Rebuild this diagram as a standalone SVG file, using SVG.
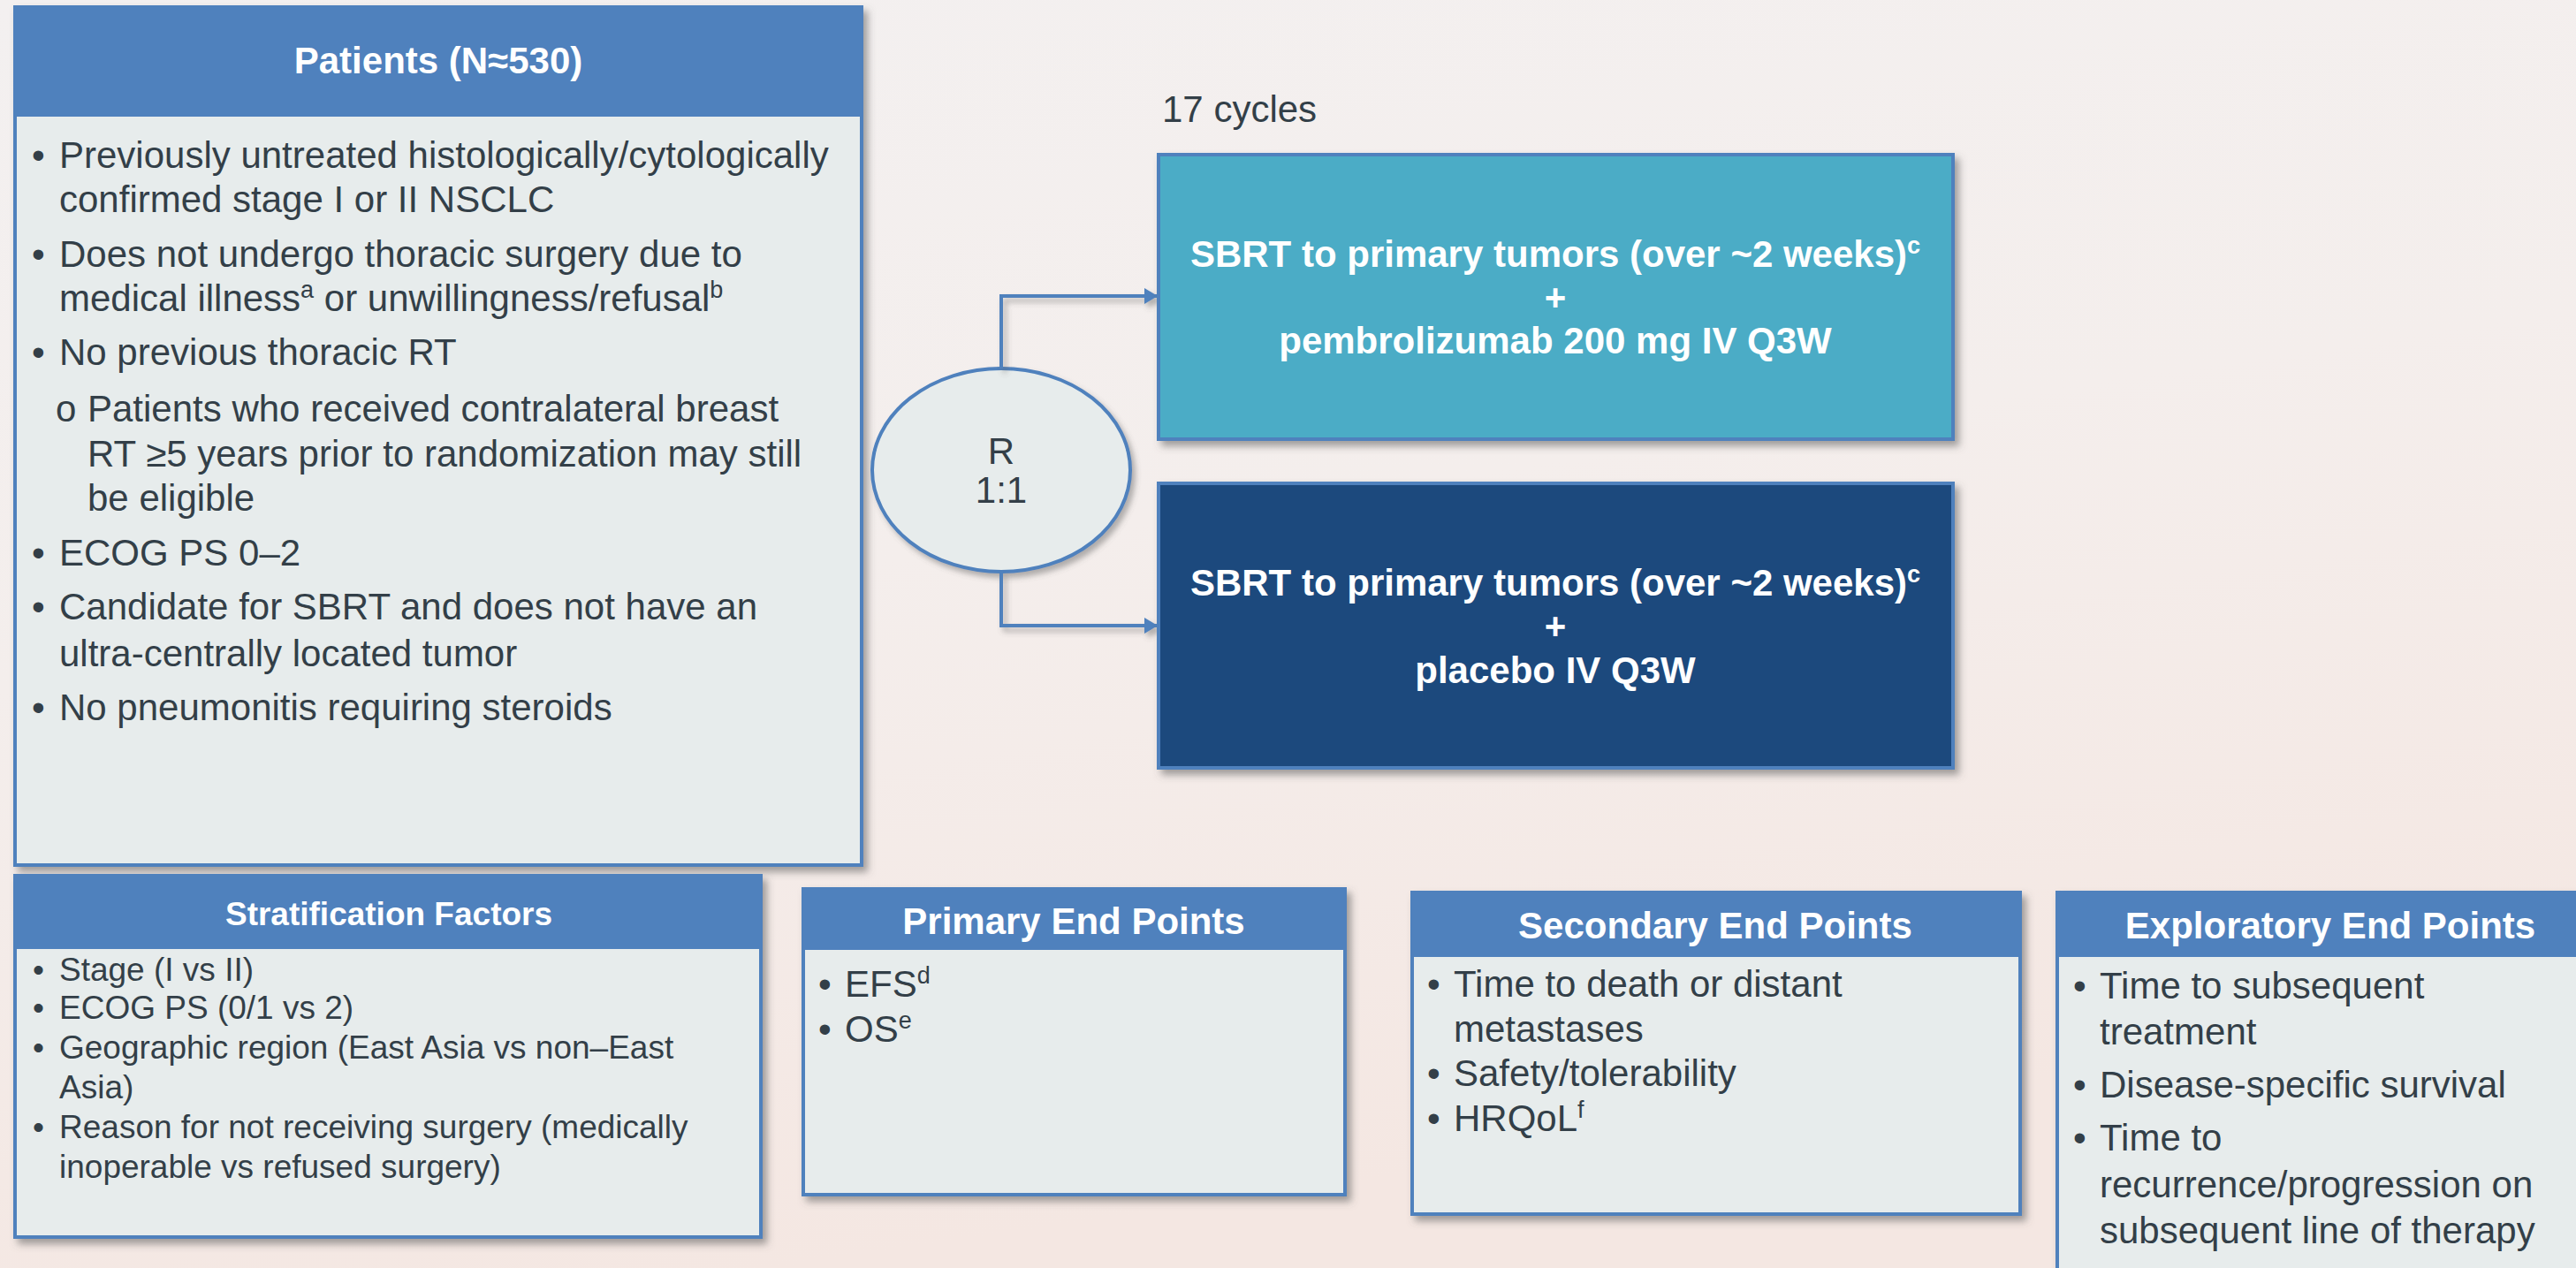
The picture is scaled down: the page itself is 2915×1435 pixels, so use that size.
<svg xmlns="http://www.w3.org/2000/svg" width="2915" height="1435" viewBox="0 0 2915 1435">
<defs>
<linearGradient id="bg" x1="0" y1="0" x2="0.3" y2="1">
<stop offset="0" stop-color="#F3F0F0"/>
<stop offset="0.5" stop-color="#F4EEEC"/>
<stop offset="1" stop-color="#F4E7E2"/>
</linearGradient>
<filter id="sh" x="-5%" y="-5%" width="115%" height="115%">
<feDropShadow dx="5" dy="6" stdDeviation="4" flood-color="#5a5a5a" flood-opacity="0.55"/>
</filter>
<filter id="shl" x="-10%" y="-10%" width="130%" height="140%">
<feDropShadow dx="4" dy="5" stdDeviation="3" flood-color="#5a5a5a" flood-opacity="0.45"/>
</filter>
<marker id="arr" markerUnits="userSpaceOnUse" markerWidth="16" markerHeight="18" refX="15" refY="9" orient="auto">
<path d="M0,0 L15,9 L0,18 Z" fill="#4F81BD"/>
</marker>
</defs>
<style>
.body{fill:#E7ECEC;stroke:#4F81BD;stroke-width:4}
.head{fill:#4F81BD}
.ht{font-family:"Liberation Sans",Arial,sans-serif;font-weight:bold;fill:#FFFFFF;text-anchor:middle}
.t{font-family:"Liberation Sans",Arial,sans-serif;fill:#333F48;font-size:42px}
.s{font-family:"Liberation Sans",Arial,sans-serif;fill:#333F48;font-size:37px}
.at{font-family:"Liberation Sans",Arial,sans-serif;font-weight:bold;fill:#FFFFFF;font-size:42px;text-anchor:middle}
.con{fill:none;stroke:#4F81BD;stroke-width:4}
</style>
<rect width="2915" height="1435" fill="url(#bg)"/>

<g id="patients">
<g filter="url(#sh)">
<rect class="body" x="17" y="8" width="958" height="971"/>
<rect class="head" x="15" y="6" width="962" height="126"/>
</g>
<text class="ht" x="496" y="83" font-size="42">Patients (N≈530)</text>
<text class="t" x="36" y="190">•</text><text class="t" x="67" y="190">Previously untreated histologically/cytologically</text>
<text class="t" x="67" y="240">confirmed stage I or II NSCLC</text>
<text class="t" x="36" y="302">•</text><text class="t" x="67" y="302">Does not undergo thoracic surgery due to</text>
<text class="t" x="67" y="352">medical illness<tspan font-size="27" dy="-15">a</tspan><tspan dy="15"> or unwillingness/refusal</tspan><tspan font-size="27" dy="-15">b</tspan></text>
<text class="t" x="36" y="413">•</text><text class="t" x="67" y="413">No previous thoracic RT</text>
<text class="t" x="63" y="477" font-size="38">o</text><text class="t" x="99" y="477">Patients who received contralateral breast</text>
<text class="t" x="99" y="528">RT ≥5 years prior to randomization may still</text>
<text class="t" x="99" y="578">be eligible</text>
<text class="t" x="36" y="640">•</text><text class="t" x="67" y="640">ECOG PS 0–2</text>
<text class="t" x="36" y="701">•</text><text class="t" x="67" y="701">Candidate for SBRT and does not have an</text>
<text class="t" x="67" y="754">ultra-centrally located tumor</text>
<text class="t" x="36" y="815">•</text><text class="t" x="67" y="815">No pneumonitis requiring steroids</text>
</g>

<text class="t" x="1315" y="138">17 cycles</text>

<g id="randomization">
<ellipse cx="1133" cy="532" rx="146" ry="115" fill="#E7ECEC" stroke="#4F81BD" stroke-width="4" filter="url(#shl)"/>
<text class="t" x="1133" y="525" text-anchor="middle">R</text>
<text class="t" x="1133" y="569" text-anchor="middle">1:1</text>
</g>

<g id="connectors" filter="url(#shl)">
<path class="con" d="M1133,417 V335 H1310" marker-end="url(#arr)"/>
<path class="con" d="M1133,647 V708 H1310" marker-end="url(#arr)"/>
</g>

<g id="arm-pembrolizumab">
<rect x="1311" y="175" width="899" height="322" fill="#4BACC6" stroke="#4F81BD" stroke-width="4" filter="url(#sh)"/>
<text class="at" x="1760" y="302">SBRT to primary tumors (over ~2 weeks)<tspan font-size="27" dy="-15">c</tspan></text>
<text class="at" x="1760" y="351">+</text>
<text class="at" x="1760" y="400">pembrolizumab 200 mg IV Q3W</text>
</g>

<g id="arm-placebo">
<rect x="1311" y="547" width="899" height="322" fill="#1F497D" stroke="#4F81BD" stroke-width="4" filter="url(#sh)"/>
<text class="at" x="1760" y="674">SBRT to primary tumors (over ~2 weeks)<tspan font-size="27" dy="-15">c</tspan></text>
<text class="at" x="1760" y="723">+</text>
<text class="at" x="1760" y="773">placebo IV Q3W</text>
</g>

<g id="stratification">
<g filter="url(#sh)">
<rect class="body" x="17" y="991" width="844" height="409"/>
<rect class="head" x="15" y="989" width="848" height="85"/>
</g>
<text class="ht" x="440" y="1047" font-size="37">Stratification Factors</text>
<text class="s" x="37" y="1110">•</text><text class="s" x="67" y="1110">Stage (I vs II)</text>
<text class="s" x="37" y="1153">•</text><text class="s" x="67" y="1153">ECOG PS (0/1 vs 2)</text>
<text class="s" x="37" y="1198">•</text><text class="s" x="67" y="1198">Geographic region (East Asia vs non–East</text>
<text class="s" x="67" y="1243">Asia)</text>
<text class="s" x="37" y="1288">•</text><text class="s" x="67" y="1288">Reason for not receiving surgery (medically</text>
<text class="s" x="67" y="1333">inoperable vs refused surgery)</text>
</g>

<g id="primary">
<g filter="url(#sh)">
<rect class="body" x="909" y="1006" width="613" height="346"/>
<rect class="head" x="907" y="1004" width="617" height="71"/>
</g>
<text class="ht" x="1215" y="1057" font-size="42">Primary End Points</text>
<text class="t" x="926" y="1128">•</text><text class="t" x="956" y="1128">EFS<tspan font-size="27" dy="-15">d</tspan></text>
<text class="t" x="926" y="1179">•</text><text class="t" x="956" y="1179">OS<tspan font-size="27" dy="-15">e</tspan></text>
</g>

<g id="secondary">
<g filter="url(#sh)">
<rect class="body" x="1598" y="1010" width="688" height="364"/>
<rect class="head" x="1596" y="1008" width="692" height="75"/>
</g>
<text class="ht" x="1941" y="1062" font-size="42">Secondary End Points</text>
<text class="t" x="1615" y="1128">•</text><text class="t" x="1645" y="1128">Time to death or distant</text>
<text class="t" x="1645" y="1179">metastases</text>
<text class="t" x="1615" y="1229">•</text><text class="t" x="1645" y="1229">Safety/tolerability</text>
<text class="t" x="1615" y="1280">•</text><text class="t" x="1645" y="1280">HRQoL<tspan font-size="27" dy="-15">f</tspan></text>
</g>

<g id="exploratory">
<g filter="url(#sh)">
<rect class="body" x="2328" y="1010" width="620" height="460"/>
<rect class="head" x="2326" y="1008" width="624" height="75"/>
</g>
<text class="ht" x="2637" y="1062" font-size="42">Exploratory End Points</text>
<text class="t" x="2346" y="1130">•</text><text class="t" x="2376" y="1130">Time to subsequent</text>
<text class="t" x="2376" y="1182">treatment</text>
<text class="t" x="2346" y="1242">•</text><text class="t" x="2376" y="1242">Disease-specific survival</text>
<text class="t" x="2346" y="1302">•</text><text class="t" x="2376" y="1302">Time to</text>
<text class="t" x="2376" y="1355">recurrence/progression on</text>
<text class="t" x="2376" y="1407">subsequent line of therapy</text>
</g>
</svg>
